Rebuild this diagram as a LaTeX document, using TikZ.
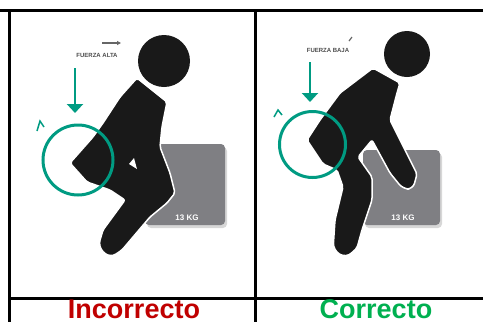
\documentclass[tikz,border=0pt]{standalone}
\usepackage{fontspec}
\setmainfont{Liberation Sans}
\usetikzlibrary{arrows.meta}

\definecolor{sarcelle}{RGB}{0,155,130}
\definecolor{rouge}{RGB}{192,0,0}
\definecolor{vert}{RGB}{0,176,80}
\definecolor{caissegris}{RGB}{127,127,131}
\definecolor{ombre}{RGB}{215,215,215}

\begin{document}
\begin{tikzpicture}[x=1pt,y=-1pt]
		\tikzstyle{trait} = [line width=3pt]
		\tikzstyle{corps} = [fill=black!90,draw=white,line width=1.5pt,line join=round,rounded corners=2pt]
		\tikzstyle{tete} = [circle,fill=black!90,inner sep=0pt]
		\tikzstyle{anneau} = [circle,draw=sarcelle,line width=3pt,inner sep=0pt]
		\tikzstyle{fleche} = [-{Triangle[width=16pt,length=9pt]},draw=sarcelle,line width=2.5pt]
		\tikzstyle{caisse} = [fill=caissegris,rounded corners=4pt]
		\tikzstyle{etiquette} = [anchor=base,inner sep=0pt,font=\fontsize{27}{27}\selectfont\bfseries]
		\tikzstyle{poids} = [text=white,font=\fontsize{8}{8}\selectfont\bfseries]
		\tikzstyle{legende} = [text=black!70,font=\fontsize{6}{6}\selectfont\bfseries]
		
		\useasboundingbox (0,0) rectangle (483,322);
		
		% tableau
		\draw[trait] (0,10) -- (483,10);
		\draw[trait] (9.5,10) -- (9.5,322);
		\draw[trait] (255,10) -- (255,322);
		\draw[trait] (9.5,298) -- (483,298);
		
		\node[etiquette,text=rouge](incorrecto) at (134,318.5) {Incorrecto};
		\node[etiquette,text=vert](correcto) at (376,318.5) {Correcto};
		
		% --- mauvaise posture ---
		\fill[ombre,rounded corners=4pt] (147,147) rectangle (227,228);
		\fill[caisse] (145,144) rectangle (225,225);
		\node[poids](poidsI) at (187,218) {13 KG};
		
		\node[tete,minimum size=52pt](teteI) at (164,61) {};
		\draw[corps] (137,78) -- (167,102) -- (162,127) -- (160,147) -- (170,173)
			-- (175,193) -- (167,203) -- (150,217) -- (122,250)
			[rounded corners=7pt] -- (110,258) -- (98,247)
			[rounded corners=2pt] -- (103,230) -- (125,200) -- (110,190) -- (87,182)
			-- (70,163) -- (93,137) -- (103,123) -- (120,97) -- cycle;
		\fill[white] (129,164) -- (134,158) -- (137,169) -- cycle;
		
		\node[anneau,minimum size=70pt](anneauI) at (78,160) {};
		\coordinate (hautI) at (75,68);
		\coordinate (basI) at (75,113);
		\draw[fleche] (hautI) -- (basI);
		\draw[sarcelle,line width=1.5pt] (37,131) -- (40,121) -- (44,127);
		
		\node[legende](forceI) at (97,55) {FUERZA ALTA};
		\coordinate (vecA) at (102,43);
		\coordinate (vecB) at (121,43);
		\draw[-{Triangle[width=4pt,length=4pt]},black!60,line width=1.2pt] (vecA) -- (vecB);
		
		% --- bonne posture ---
		\fill[ombre,rounded corners=4pt] (365,153) rectangle (442,228);
		\fill[caisse] (363,150) rectangle (440,225);
		\node[poids](poidsC) at (403,218) {13 KG};
		
		\node[tete,minimum size=46pt](teteC) at (407,54) {};
		\draw[corps] (373,68) -- (400,83) -- (397,93) -- (390,120) -- (410,160)
			-- (417,174) [rounded corners=6pt] -- (413,189) -- (403,189)
			[rounded corners=2pt] -- (390,173) -- (372,140) -- (358,157) -- (372,177)
			-- (372,200) -- (362,230) -- (357,248)
			[rounded corners=7pt] -- (346,258) -- (333,250)
			[rounded corners=2pt] -- (335,220) -- (343,187) -- (337,170) -- (323,164)
			-- (307,140) -- (320,120) -- (340,93) -- cycle;
		
		\node[anneau,minimum size=66pt](anneauC) at (312.5,144.5) {};
		\coordinate (hautC) at (310,62);
		\coordinate (basC) at (310,102);
		\draw[fleche] (hautC) -- (basC);
		\draw[sarcelle,line width=1.5pt] (274,117) -- (278,110) -- (282,115);
		
		\node[legende](forceC) at (328,50) {FUERZA BAJA};
		\draw[black!60,line width=1.2pt] (349,41) -- (352,37);
		\end{tikzpicture}
\end{document}
